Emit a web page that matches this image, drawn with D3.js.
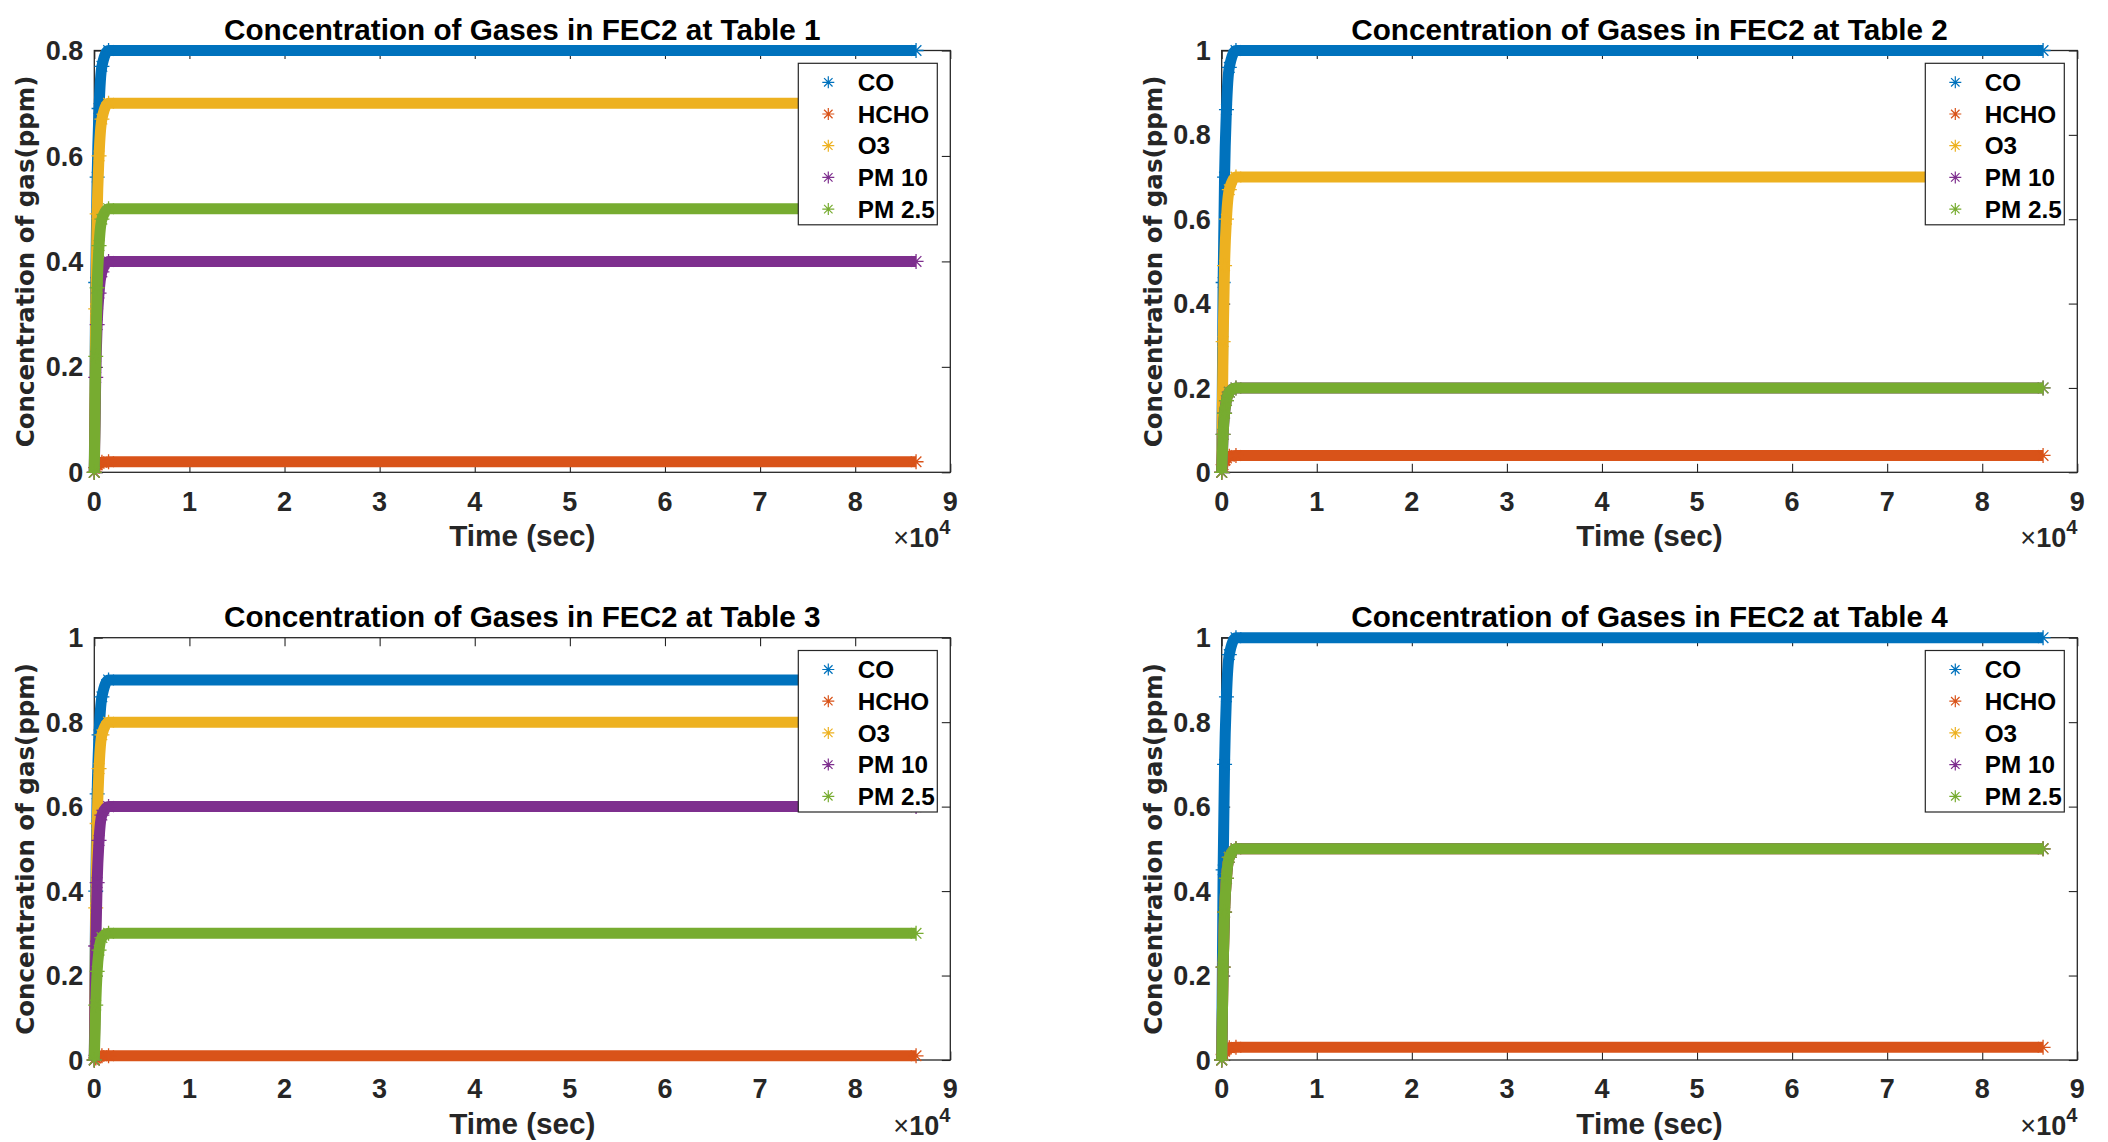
<!DOCTYPE html>
<html>
<head>
<meta charset="utf-8">
<script src="https://cdn.jsdelivr.net/npm/d3@7"></script>
<style>
  body { margin: 0; background: #fff; }
  svg { display: block; }
</style>
</head>
<body>
<div id="chart"></div>
<script>
// series names, colours (MATLAB default order)
const seriesNames = ['CO', 'HCHO', 'O3', 'PM 10', 'PM 2.5']
const seriesColors = ['#0072BD', '#D95319', '#EDB120', '#7E2F8E', '#77AC30']

// sample times (sec)
const times = [0, 150, 300, 500, 800, 1500, 86400]

// values per table, one row per series (CO, HCHO, O3, PM 10, PM 2.5)
const table1Values = [
  [0, 0.36, 0.56, 0.69, 0.77, 0.8, 0.8],
  [0, 0.009, 0.014, 0.017, 0.019, 0.02, 0.02],
  [0, 0.31, 0.49, 0.6, 0.67, 0.7, 0.7],
  [0, 0.18, 0.28, 0.34, 0.38, 0.4, 0.4],
  [0, 0.22, 0.35, 0.43, 0.48, 0.5, 0.5],
]
const table2Values = [
  [0, 0.45, 0.7, 0.86, 0.96, 1, 1],
  [0, 0.018, 0.028, 0.034, 0.038, 0.04, 0.04],
  [0, 0.31, 0.49, 0.6, 0.67, 0.7, 0.7],
  [0, 0.09, 0.14, 0.17, 0.19, 0.2, 0.2],
  [0, 0.09, 0.14, 0.17, 0.19, 0.2, 0.2],
]
const table3Values = [
  [0, 0.4, 0.63, 0.77, 0.86, 0.9, 0.9],
  [0, 0.005, 0.007, 0.009, 0.01, 0.01, 0.01],
  [0, 0.36, 0.56, 0.69, 0.77, 0.8, 0.8],
  [0, 0.27, 0.42, 0.52, 0.58, 0.6, 0.6],
  [0, 0.13, 0.21, 0.26, 0.29, 0.3, 0.3],
]
const table4Values = [
  [0, 0.45, 0.7, 0.86, 0.96, 1, 1],
  [0, 0.013, 0.021, 0.026, 0.029, 0.03, 0.03],
  [0, 0.22, 0.35, 0.43, 0.48, 0.5, 0.5],
  [0, 0.22, 0.35, 0.43, 0.48, 0.5, 0.5],
  [0, 0.22, 0.35, 0.43, 0.48, 0.5, 0.5],
]

const panelTitles = [
  'Concentration of Gases in FEC2 at Table 1',
  'Concentration of Gases in FEC2 at Table 2',
  'Concentration of Gases in FEC2 at Table 3',
  'Concentration of Gases in FEC2 at Table 4',
]
const yMaxes = [0.8, 1, 1, 1]
const xTicks = [0, 1, 2, 3, 4, 5, 6, 7, 8, 9]
const xTickLabels = ['0', '1', '2', '3', '4', '5', '6', '7', '8', '9']
const yTicks08 = [0, 0.2, 0.4, 0.6, 0.8]
const yTicks1 = [0, 0.2, 0.4, 0.6, 0.8, 1]

const panelValues = [table1Values, table2Values, table3Values, table4Values]

const width = 2108,
  height = 1142

const boxes = [
  { left: 94.3, right: 950.3, top: 50.5, bottom: 472.3 },
  { left: 1221.7, right: 2077.3, top: 50.5, bottom: 472.3 },
  { left: 94.3, right: 950.3, top: 637.7, bottom: 1060 },
  { left: 1221.7, right: 2077.3, top: 637.7, bottom: 1060 },
]

const axisColor = '#262626'
const sansBold = '"Liberation Sans", Arial, sans-serif'
const axFont = 27

const svg = d3
  .select('#chart')
  .append('svg')
  .attr('width', width)
  .attr('height', height)

svg.append('rect').attr('width', width).attr('height', height).attr('fill', '#fff')

// asterisk marker path centred at 0,0
function asterisk(r) {
  const d = r * 0.7071
  return `M${-r},0L${r},0M0,${-r}L0,${r}M${-d},${-d}L${d},${d}M${-d},${d}L${d},${-d}`
}

function drawPanel(i) {
  const b = boxes[i]
  const values = panelValues[i]
  const yMax = yMaxes[i]
  const yTicks = yMax === 1 ? yTicks1 : yTicks08

  const x = d3.scaleLinear().domain([0, 9e4]).range([b.left, b.right])
  const y = d3.scaleLinear().domain([0, yMax]).range([b.bottom, b.top])

  const g = svg.append('g')
  const tickLen = 8.5

  // box on, ticks pointing inward on all four sides
  const axes = g.append('g')
  axes.append('g').attr('transform', `translate(0,${b.bottom})`)
    .call(d3.axisTop(x).tickValues(xTicks.map(v => v * 1e4)).tickSize(tickLen).tickFormat(''))
  axes.append('g').attr('transform', `translate(0,${b.top})`)
    .call(d3.axisBottom(x).tickValues(xTicks.map(v => v * 1e4)).tickSize(tickLen).tickFormat(''))
  axes.append('g').attr('transform', `translate(${b.left},0)`)
    .call(d3.axisRight(y).tickValues(yTicks).tickSize(tickLen).tickFormat(''))
  axes.append('g').attr('transform', `translate(${b.right},0)`)
    .call(d3.axisLeft(y).tickValues(yTicks).tickSize(tickLen).tickFormat(''))
  axes.selectAll('.domain').remove()
  axes.selectAll('.tick line').attr('stroke', axisColor).attr('stroke-width', 1.1)

  g.append('rect')
    .attr('x', b.left)
    .attr('y', b.top)
    .attr('width', b.right - b.left)
    .attr('height', b.bottom - b.top)
    .attr('fill', 'none')
    .attr('stroke', axisColor)
    .attr('stroke-width', 1.3)

  // tick labels
  g.selectAll('.xlab')
    .data(xTicks)
    .enter()
    .append('text')
    .attr('x', (d) => x(d * 1e4))
    .attr('y', b.bottom + 38.4)
    .attr('text-anchor', 'middle')
    .attr('font-family', sansBold)
    .attr('font-weight', 'bold')
    .attr('font-size', axFont)
    .attr('fill', axisColor)
    .text((d, k) => xTickLabels[k])

  g.selectAll('.ylab')
    .data(yTicks)
    .enter()
    .append('text')
    .attr('x', b.left - 11)
    .attr('y', (d) => y(d) + 9.6)
    .attr('text-anchor', 'end')
    .attr('font-family', sansBold)
    .attr('font-weight', 'bold')
    .attr('font-size', axFont)
    .attr('fill', axisColor)
    .text((d) => d3.format('~g')(d))

  // exponent label
  const ex = g.append('text')
    .attr('x', b.right)
    .attr('y', b.bottom + 75)
    .attr('text-anchor', 'end')
    .attr('font-family', sansBold)
    .attr('fill', axisColor)
    .attr('font-size', 27)
  ex.append('tspan').attr('font-weight', 'normal').text('\u00d7')
  ex.append('tspan').attr('font-weight', 'bold').text('10')
  ex.append('tspan').attr('font-weight', 'bold').attr('font-size', 20).attr('dy', -13).text('4')

  // axis labels and title
  g.append('text')
    .attr('x', (b.left + b.right) / 2)
    .attr('y', b.bottom + 74)
    .attr('text-anchor', 'middle')
    .attr('font-family', sansBold)
    .attr('font-weight', 'bold')
    .attr('font-size', 29.7)
    .attr('fill', axisColor)
    .text('Time (sec)')

  g.append('text')
    .attr('transform', `translate(${b.left - 60},${(b.top + b.bottom) / 2}) rotate(-90)`)
    .attr('text-anchor', 'middle')
    .attr('font-family', '"DejaVu Sans", Verdana, sans-serif')
    .attr('font-weight', 'bold')
    .attr('font-size', 24.5)
    .attr('fill', axisColor)
    .text('Concentration of gas(ppm)')

  g.append('text')
    .attr('x', (b.left + b.right) / 2)
    .attr('y', b.top - 11)
    .attr('text-anchor', 'middle')
    .attr('font-family', sansBold)
    .attr('font-weight', 'bold')
    .attr('font-size', 29.7)
    .attr('fill', '#000')
    .text(panelTitles[i])

  // series: thick band of dense '*' markers
  const line = d3
    .line()
    .x((d, k) => x(times[k]))
    .y((d) => y(d))
    .curve(d3.curveMonotoneX)

  const series = g
    .selectAll('.series')
    .data(values)
    .enter()
    .append('g')

  series
    .append('path')
    .attr('d', (d) => line(d))
    .attr('fill', 'none')
    .attr('stroke', (d, k) => seriesColors[k])
    .attr('stroke-width', 11)
    .attr('stroke-linejoin', 'round')

  series
    .selectAll('path.mk')
    .data((d, k) => d.map((v, j) => ({ v, j, k })))
    .enter()
    .append('path')
    .attr('class', 'mk')
    .attr('transform', (d) => `translate(${x(times[d.j])},${y(d.v)})`)
    .attr('d', asterisk(7.5))
    .attr('stroke', (d) => seriesColors[d.k])
    .attr('stroke-width', 1.3)
    .attr('fill', 'none')

  // legend
  const lg = g.append('g').attr('transform', `translate(${b.right - 152},${b.top + 12.8})`)
  lg.append('rect')
    .attr('width', 139)
    .attr('height', 161.5)
    .attr('fill', '#fff')
    .attr('stroke', axisColor)
    .attr('stroke-width', 1.2)

  const items = lg
    .selectAll('.item')
    .data(seriesNames)
    .enter()
    .append('g')
    .attr('transform', (d, k) => `translate(0,${19 + k * 31.7})`)

  items
    .append('path')
    .attr('transform', 'translate(30,0)')
    .attr('d', asterisk(6))
    .attr('stroke', (d, k) => seriesColors[k])
    .attr('stroke-width', 1.2)
    .attr('fill', 'none')

  items
    .append('text')
    .attr('x', 59.4)
    .attr('y', 8.6)
    .attr('font-family', sansBold)
    .attr('font-weight', 'bold')
    .attr('font-size', 24.3)
    .attr('fill', '#000')
    .text((d) => d)
}

for (let i = 0; i < 4; i++) drawPanel(i)
</script>
</body>
</html>
